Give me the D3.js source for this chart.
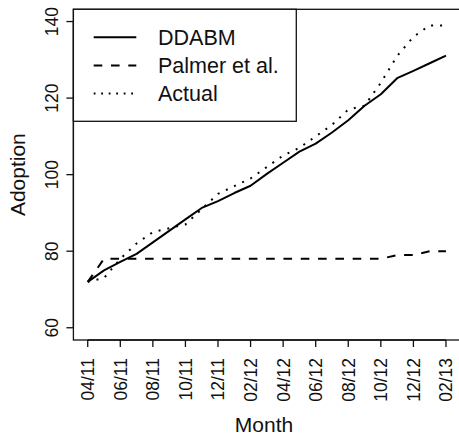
<!DOCTYPE html>
<html>
<head>
<meta charset="utf-8">
<script src="https://cdn.jsdelivr.net/npm/d3@7"></script>
<style>
  html, body { margin: 0; padding: 0; background: #fff; }
  svg { display: block; font-family: "Liberation Sans", Arial, Helvetica, sans-serif; }
</style>
</head>
<body>
<svg id="chart" width="459" height="437"></svg>
<script>
// Monthly adoption counts, April 2011 through February 2013
const months = ["04/11","05/11","06/11","07/11","08/11","09/11","10/11","11/11","12/11",
                "01/12","02/12","03/12","04/12","05/12","06/12","07/12","08/12","09/12",
                "10/12","11/12","12/12","01/13","02/13"];
const ddabm  = [72, 75, 77.2, 79.3, 82.3, 85.3, 88.3, 91.3, 93.1, 95.2, 97.1, 100.2,
                103.1, 106.0, 108.1, 111.0, 114.2, 118.0, 121.0, 125.2, 127.1, 129.1, 131.1];
const palmer = [72, 78, 78, 78, 78, 78, 78, 78, 78, 78, 78, 78,
                78, 78, 78, 78, 78, 78, 78, 79, 79, 80, 80];
const actual = [72, 73, 78, 82, 85, 86, 87, 91, 95, 97, 99, 102,
                105, 107, 110, 113, 117, 118, 124, 131, 136, 139, 139];
const yTicks = [60, 80, 100, 120, 140];
const xTickLabels = ["04/11","06/11","08/11","10/11","12/11","02/12","04/12",
                     "06/12","08/12","10/12","12/12","02/13"];

const seriesNames = ["DDABM", "Palmer et al.", "Actual"];

const svg = d3.select("#chart");

// plot region (base-graphics style: axis ranges padded by 4%)
const plotL = 73.4, plotR = 460.3, plotT = 9.3, plotB = 340;
const n = months.length;
const xPad = 0.04 * (n - 1);
const yLim = [60, 140], yPad = 0.04 * (yLim[1] - yLim[0]);

const x = d3.scaleLinear().domain([-xPad, n - 1 + xPad]).range([plotL, plotR]);
const y = d3.scaleLinear().domain([yLim[0] - yPad, yLim[1] + yPad]).range([plotB, plotT]);

const styles = [
  { data: ddabm,  dash: null },
  { data: palmer, dash: "8.6,8.7" },
  { data: actual, dash: "2,7" }
];

const line = d3.line().x((d, i) => x(i)).y(d => y(d));

const g = svg.append("g");

styles.forEach(s => {
  g.append("path")
    .datum(s.data)
    .attr("d", line)
    .attr("fill", "none")
    .attr("stroke", "#000")
    .attr("stroke-width", 2)
    .attr("stroke-linejoin", "round")
    .attr("stroke-dasharray", s.dash);
});

// plot box
svg.append("rect")
  .attr("x", plotL).attr("y", plotT)
  .attr("width", plotR - plotL).attr("height", plotB - plotT)
  .attr("fill", "none").attr("stroke", "#111").attr("stroke-width", 1.3);

// y axis
const yAxis = svg.append("g").attr("transform", `translate(${plotL},0)`);
yAxis.append("line")
  .attr("x1", 0).attr("x2", 0)
  .attr("y1", y(yTicks[0])).attr("y2", y(yTicks[yTicks.length - 1]))
  .attr("stroke", "#111").attr("stroke-width", 1.3);
yTicks.forEach(t => {
  yAxis.append("line")
    .attr("x1", 0).attr("x2", -7)
    .attr("y1", y(t)).attr("y2", y(t))
    .attr("stroke", "#111").attr("stroke-width", 1.3);
  yAxis.append("text")
    .attr("transform", `translate(-15,${y(t)}) rotate(-90)`)
    .attr("text-anchor", "middle")
    .attr("font-size", 17.5)
    .attr("fill", "#111")
    .text(t);
});

// x axis
const xAxis = svg.append("g").attr("transform", `translate(0,${plotB})`);
const tickIdx = xTickLabels.map(l => months.indexOf(l));
xAxis.append("line")
  .attr("x1", x(tickIdx[0])).attr("x2", x(tickIdx[tickIdx.length - 1]))
  .attr("y1", 0).attr("y2", 0)
  .attr("stroke", "#111").attr("stroke-width", 1.3);
tickIdx.forEach((idx, k) => {
  xAxis.append("line")
    .attr("x1", x(idx)).attr("x2", x(idx))
    .attr("y1", 0).attr("y2", 7)
    .attr("stroke", "#111").attr("stroke-width", 1.3);
  xAxis.append("text")
    .attr("transform", `translate(${x(idx) + 6.5},18) rotate(-90)`)
    .attr("text-anchor", "end")
    .attr("font-size", 17.5)
    .attr("fill", "#111")
    .text(xTickLabels[k]);
});

// axis titles
svg.append("text")
  .attr("x", 264).attr("y", 432.3)
  .attr("text-anchor", "middle")
  .attr("font-size", 21)
  .attr("fill", "#111")
  .text("Month");
svg.append("text")
  .attr("transform", `translate(25,${(plotT + plotB) / 2}) rotate(-90)`)
  .attr("text-anchor", "middle")
  .attr("font-size", 21)
  .attr("fill", "#111")
  .text("Adoption");

// legend
const legend = svg.append("g");
legend.append("rect")
  .attr("x", plotL).attr("y", plotT)
  .attr("width", 296.3 - plotL).attr("height", 121.3 - plotT)
  .attr("fill", "#fff").attr("stroke", "#111").attr("stroke-width", 1.3);
const legendDash = [null, "8.6,8.7", "1.8,5.7"];
seriesNames.forEach((name, i) => {
  const ly = 37.3 + i * 28.1;
  legend.append("line")
    .attr("x1", 93.7).attr("x2", 136.3)
    .attr("y1", ly).attr("y2", ly)
    .attr("stroke", "#000").attr("stroke-width", 2)
    .attr("stroke-dasharray", legendDash[i]);
  legend.append("text")
    .attr("x", 158).attr("y", ly + 7.7)
    .attr("font-size", 21.5)
    .attr("fill", "#111")
    .text(name);
});
</script>
</body>
</html>
